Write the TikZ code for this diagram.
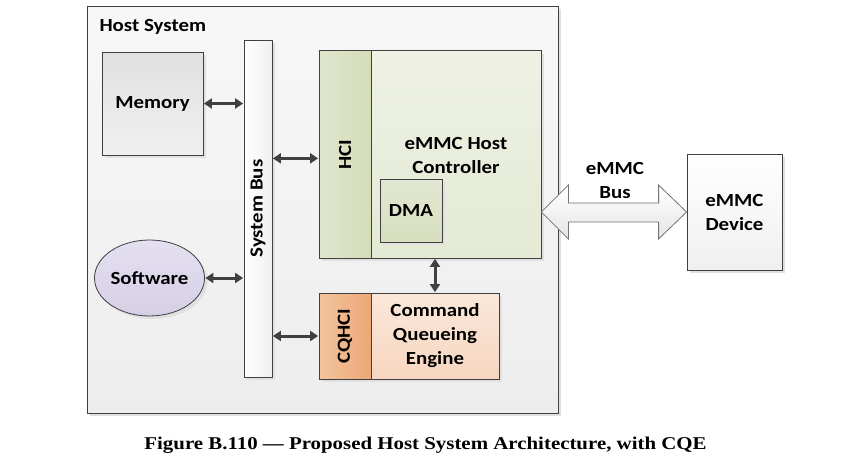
\documentclass[tikz,border=0pt]{standalone}
\usepackage{fontspec}
\setmainfont{Liberation Serif}[FakeStretch=1.16]
\newfontfamily\calfont{Carlito}[FakeStretch=1.13]
\usetikzlibrary{arrows.meta,shadows,calc,shapes.geometric}
\definecolor{edge}{HTML}{404040}
\definecolor{arr}{HTML}{404040}
\begin{document}
\begin{tikzpicture}[x=1pt,y=-1pt,
  lbl/.style={font=\calfont\bfseries\fontsize{18.5}{24}\selectfont, align=center},
  blk/.style={draw=edge, line width=0.8pt, inner sep=0pt, lbl,
    drop shadow={shadow xshift=3pt, shadow yshift=-3pt, fill=black!12, opacity=1}},
  biarrow/.style={{Triangle[length=8pt,width=10pt]}-{Triangle[length=8pt,width=10pt]}, line width=3pt, draw=arr, shorten >=0.5pt, shorten <=0.5pt}
]
\useasboundingbox (0,0) rectangle (857,458);
% host
\node[blk, minimum width=471pt, minimum height=407pt, top color=white!97!black, bottom color=black!7] (host) at (322.5,209.5) {};
\node[lbl, anchor=west] (hostlbl) at (96,27) {Host System};
% memory
\node[blk, minimum width=101pt, minimum height=103pt, top color=black!12, bottom color=black!6] (mem) at (152.5,103.5) {Memory};
% system bus
\node[blk, minimum width=28pt, minimum height=337pt, left color=white, right color=black!6] (bus) at (258,208.5) {};
\node[lbl, rotate=90] (buslbl) at (bus.center) {System Bus};
% HCI and controller
\node[blk, minimum width=52pt, minimum height=207.3pt, left color={rgb,255:red,224;green,230;blue,205}, right color={rgb,255:red,212;green,221;blue,184}] (hci) at (345,154.35) {};
\node[lbl, rotate=90] (hcilbl) at (hci.center) {HCI};
\node[blk, minimum width=170pt, minimum height=207.3pt, top color={rgb,255:red,238;green,241;blue,228}, bottom color={rgb,255:red,228;green,234;blue,212}] (ctrl) at (456,154.35) {};
\node[lbl] (ctrllbl) at (456,155) {eMMC Host\\Controller};
\node[blk, minimum width=62pt, minimum height=63pt, top color={rgb,255:red,226;green,232;blue,210}, bottom color={rgb,255:red,214;green,222;blue,190}] (dma) at (411,210.5) {DMA};
% CQHCI and CQE
\node[blk, minimum width=52pt, minimum height=86pt, left color={rgb,255:red,244;green,196;blue,158}, right color={rgb,255:red,236;green,168;blue,118}] (cqhci) at (345,336) {};
\node[lbl, rotate=90] (cqhcilbl) at (cqhci.center) {CQHCI};
\node[blk, minimum width=128pt, minimum height=86pt, top color={rgb,255:red,251;green,231;blue,218}, bottom color={rgb,255:red,247;green,214;blue,192}] (cqe) at (435,336) {Command\\Queueing\\Engine};
% software
\node[blk, ellipse, minimum width=109pt, minimum height=76pt, top color={rgb,255:red,228;green,224;blue,240}, bottom color={rgb,255:red,214;green,206;blue,230}] (sw) at (149.5,278) {Software};
% device
\node[blk, minimum width=95pt, minimum height=116pt, top color=white, bottom color=black!6] (dev) at (734.5,212) {eMMC\\Device};
% arrows
\draw[biarrow] (mem.east) -- (mem.east -| bus.west);
\draw[biarrow] ([yshift=-4pt]hci.west -| bus.east) -- ([yshift=-4pt]hci.west);
\draw[biarrow] (sw.east) -- (sw.east -| bus.west);
\draw[biarrow] (cqhci.west -| bus.east) -- (cqhci.west);
\draw[biarrow] (cqe.north |- ctrl.south) -- (cqe.north);
% eMMC bus
\coordinate (L) at (ctrl.east |- dev.west);
\coordinate (R) at (dev.west);
\draw[draw=black!55, line width=0.8pt, top color=white, bottom color=black!10]
  (L) -- ($(L)+(27,-27)$) -- ($(L)+(27,-9)$) -- ($(R)+(-28,-9)$) -- ($(R)+(-28,-27)$)
  -- (R) -- ($(R)+(-28,27)$) -- ($(R)+(-28,10)$) -- ($(L)+(27,10)$) -- ($(L)+(27,27)$) -- cycle;
\node[lbl] (emmcbus) at (615,180) {eMMC\\Bus};
% caption
\node[font=\bfseries\fontsize{18}{22}\selectfont, anchor=base] (cap) at (425.5,449) {Figure B.110 --- Proposed Host System Architecture, with CQE};
\end{tikzpicture}
\end{document}
